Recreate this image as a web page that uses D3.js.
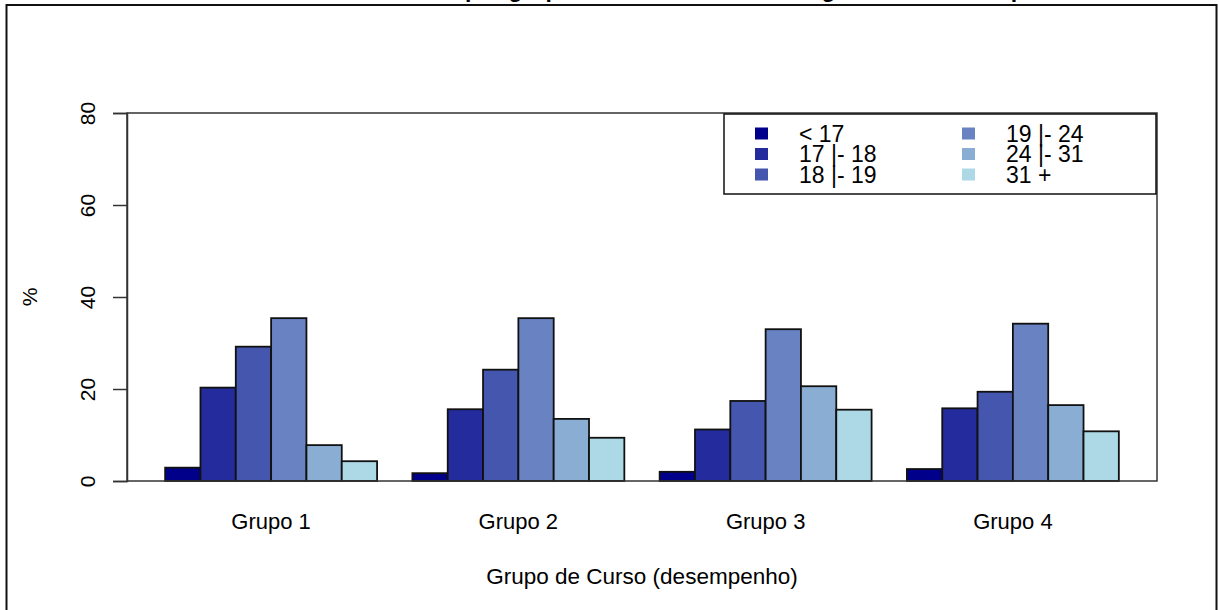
<!DOCTYPE html>
<html>
<head>
<meta charset="utf-8">
<script src="https://cdn.jsdelivr.net/npm/d3@7"></script>
<style>
  body { margin: 0; background: #fff; }
  text { font-family: "Liberation Sans", Arial, sans-serif; fill: #000; }
</style>
</head>
<body>
<div id="chart"></div>
<script>
// data (% per faixa etária)
const grupos = ["Grupo 1", "Grupo 2", "Grupo 3", "Grupo 4"];
const faixas = ["< 17", "17 |- 18", "18 |- 19", "19 |- 24", "24 |- 31", "31 +"];
const menos17 = [2.9, 1.7, 2.0, 2.6];
const f17a18 = [20.3, 15.6, 11.2, 15.8];
const f18a19 = [29.2, 24.2, 17.4, 19.4];
const f19a24 = [35.4, 35.4, 33.0, 34.2];
const f24a31 = [7.8, 13.5, 20.6, 16.5];
const mais31 = [4.3, 9.4, 15.5, 10.8];
const yTicks = [0, 20, 40, 60, 80];
const cores = ["#00008B", "#232B9D", "#4556AF", "#6882C2", "#8AADD4", "#ADD8E6"];

const series = [menos17, f17a18, f18a19, f19a24, f24a31, mais31];

const W = 1219, H = 610;
const plot = { l: 127, r: 1157, t: 113, b: 481 };

const svg = d3.select("#chart").append("svg")
  .attr("width", W).attr("height", H);

// outer frame
svg.append("rect")
  .attr("x", 6.5).attr("y", 5)
  .attr("width", 1210).attr("height", 620)
  .attr("fill", "none").attr("stroke", "#111").attr("stroke-width", 2);

// title (cut off at the top of the picture, only descenders show)
svg.append("text")
  .attr("x", (plot.l + plot.r) / 2).attr("y", -3.5)
  .attr("text-anchor", "middle")
  .style("font-size", "23px").style("font-weight", "bold")
  .text("Faixa etária dos alunos por grupo de curso e idade de ingresso no desempenho");

// barplot-like unit layout: each group = 1 space + 6 bars
const nb = faixas.length;
const unitMax = grupos.length * (nb + 1);
const pad = (unitMax - 1) * 0.04;
const x = d3.scaleLinear().domain([1 - pad, unitMax + pad]).range([plot.l, plot.r]);
const y = d3.scaleLinear().domain([0, 80]).range([plot.b, plot.t]);

// bars
const bars = [];
grupos.forEach((g, gi) => {
  series.forEach((s, j) => {
    bars.push({ g: gi, j: j, v: s[gi], u: gi * (nb + 1) + 1 + j });
  });
});

svg.append("g").selectAll("rect")
  .data(bars)
  .join("rect")
  .attr("x", d => x(d.u))
  .attr("y", d => y(d.v))
  .attr("width", d => x(d.u + 1) - x(d.u))
  .attr("height", d => y(0) - y(d.v))
  .attr("fill", d => cores[d.j])
  .attr("stroke", "#111")
  .attr("stroke-width", 1.8);

// plot box
svg.append("rect")
  .attr("x", plot.l).attr("y", plot.t)
  .attr("width", plot.r - plot.l).attr("height", plot.b - plot.t)
  .attr("fill", "none").attr("stroke", "#333").attr("stroke-width", 1.5);

// y axis
const yAxis = svg.append("g")
  .attr("transform", "translate(" + plot.l + ",0)")
  .call(d3.axisLeft(y).tickValues(yTicks).tickSize(14).tickPadding(0).tickFormat(d3.format("d")));
yAxis.select(".domain").attr("stroke", "#333").attr("stroke-width", 1.5);
yAxis.selectAll(".tick line").attr("stroke", "#333").attr("stroke-width", 1.5);
yAxis.selectAll(".tick text")
  .attr("x", 0).attr("y", 0)
  .attr("transform", "translate(-39,0) rotate(-90)")
  .attr("text-anchor", "middle")
  .attr("dy", "0.35em")
  .style("font-size", "21px")
  .style("font-family", "'Liberation Sans', Arial, sans-serif");

svg.append("text")
  .attr("transform", "translate(37," + y(40) + ") rotate(-90)")
  .attr("text-anchor", "middle")
  .style("font-size", "21px")
  .text("%");

// group labels
svg.append("g").selectAll("text")
  .data(grupos)
  .join("text")
  .attr("x", (d, i) => x(i * (nb + 1) + 1 + nb / 2))
  .attr("y", 529)
  .attr("text-anchor", "middle")
  .style("font-size", "22px")
  .text(d => d);

svg.append("text")
  .attr("x", (plot.l + plot.r) / 2).attr("y", 584)
  .attr("text-anchor", "middle")
  .style("font-size", "22.5px")
  .text("Grupo de Curso (desempenho)");

// legend
const leg = { x: 724, y: 114, w: 432, h: 80 };
const lg = svg.append("g");
lg.append("rect")
  .attr("x", leg.x).attr("y", leg.y).attr("width", leg.w).attr("height", leg.h)
  .attr("fill", "#fff").attr("stroke", "#111").attr("stroke-width", 1.5);

const items = lg.selectAll("g.item")
  .data(faixas)
  .join("g")
  .attr("class", "item")
  .attr("transform", (d, i) => {
    const col = Math.floor(i / 3), row = i % 3;
    return "translate(" + (leg.x + 31 + col * 207) + "," + (leg.y + 19.5 + row * 20.5) + ")";
  });
items.append("rect")
  .attr("x", 0).attr("y", -6).attr("width", 13).attr("height", 12)
  .attr("fill", (d, i) => cores[i]);
items.append("text")
  .attr("x", 44).attr("y", 8)
  .style("font-size", "23px")
  .text(d => d);
</script>
</body>
</html>
